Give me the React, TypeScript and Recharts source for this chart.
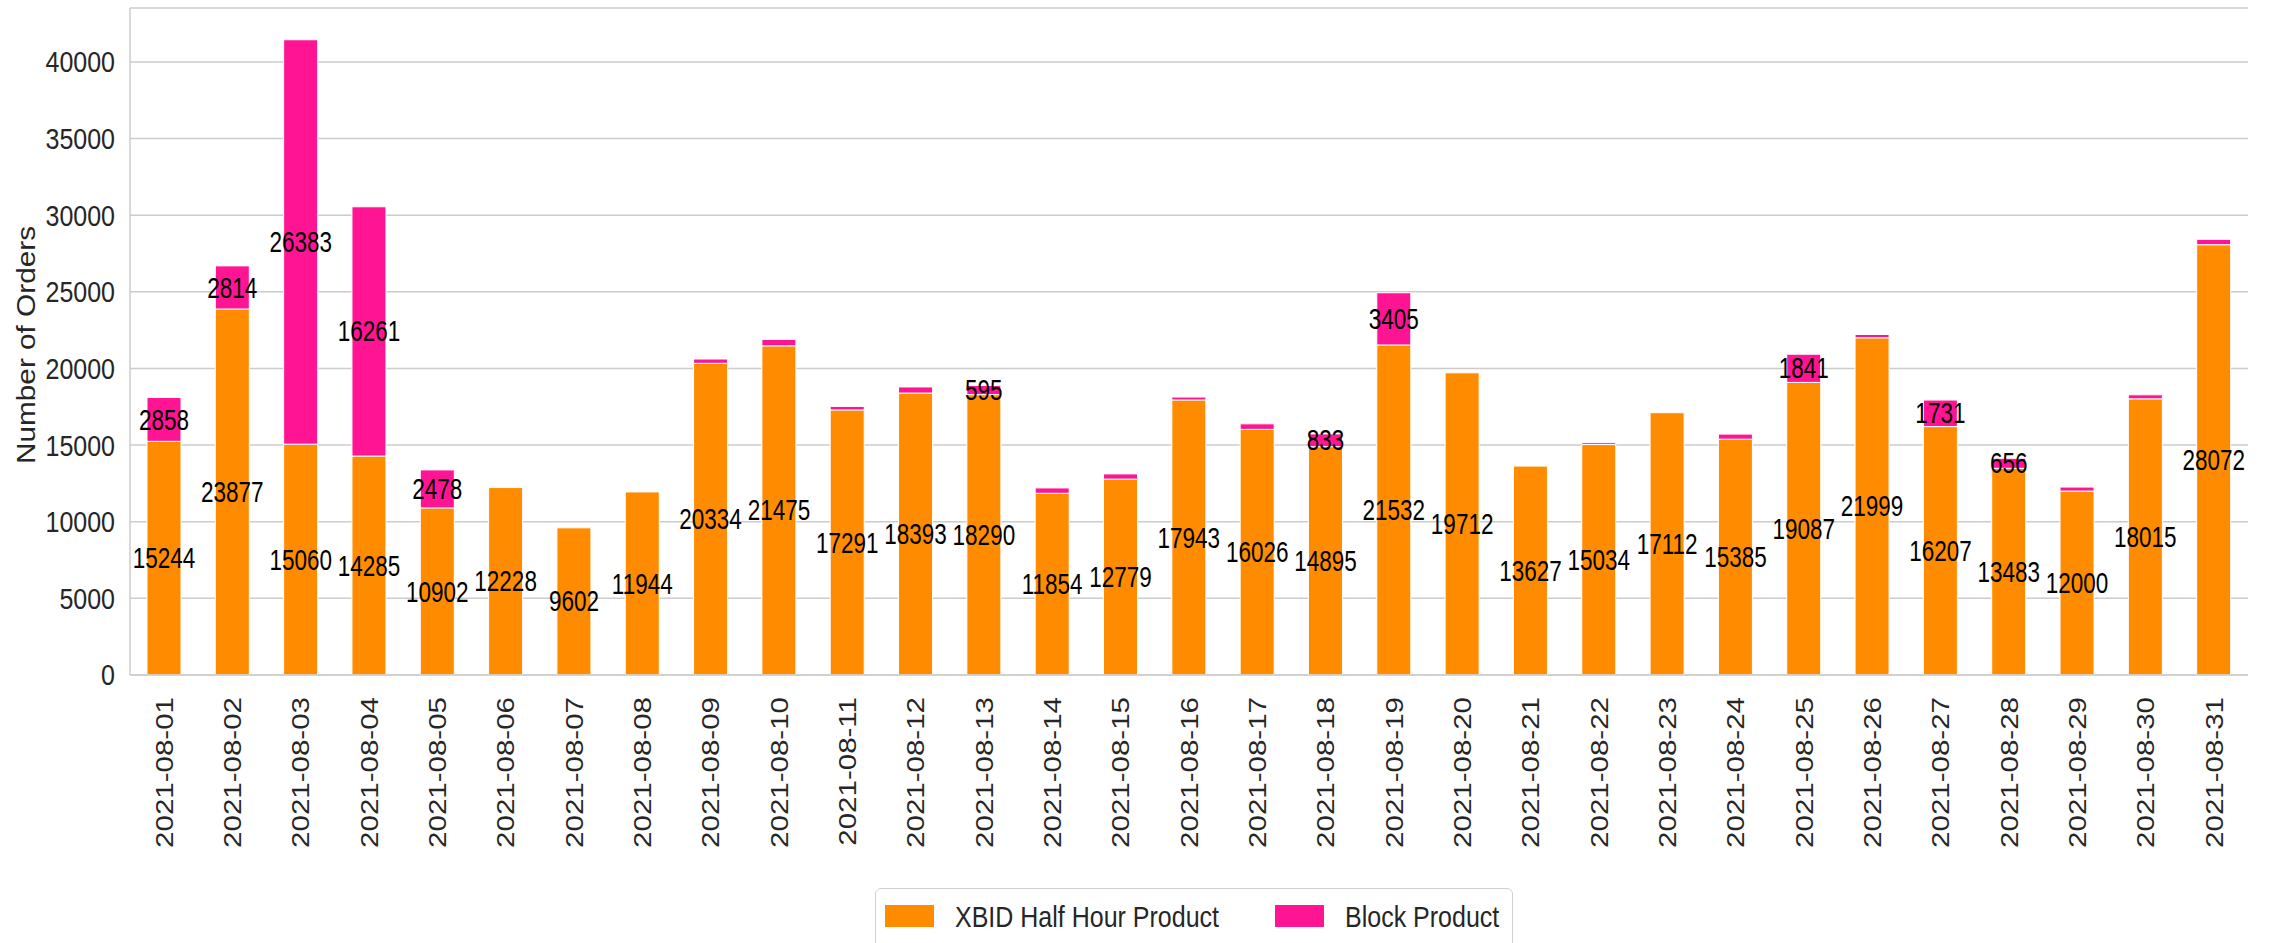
import React from 'react';
import { BarChart, Bar, XAxis, YAxis, CartesianGrid, LabelList } from 'recharts';

const dates = [
  '2021-08-01', '2021-08-02', '2021-08-03', '2021-08-04', '2021-08-05', '2021-08-06', '2021-08-07', '2021-08-08',
  '2021-08-09', '2021-08-10', '2021-08-11', '2021-08-12', '2021-08-13', '2021-08-14', '2021-08-15', '2021-08-16',
  '2021-08-17', '2021-08-18', '2021-08-19', '2021-08-20', '2021-08-21', '2021-08-22', '2021-08-23', '2021-08-24',
  '2021-08-25', '2021-08-26', '2021-08-27', '2021-08-28', '2021-08-29', '2021-08-30', '2021-08-31',
];

const xbidHalfHour = [
  15244, 23877, 15060, 14285, 10902, 12228, 9602, 11944,
  20334, 21475, 17291, 18393, 18290, 11854, 12779, 17943,
  16026, 14895, 21532, 19712, 13627, 15034, 17112, 15385,
  19087, 21999, 16207, 13483, 12000, 18015, 28072,
];

// small block values (no label in the picture) are estimated from bar heights
const blockProduct = [
  2858, 2814, 26383, 16261, 2478, 0, 0, 0,
  280, 420, 230, 400, 595, 350, 340, 190,
  360, 833, 3405, 0, 0, 120, 0, 330,
  1841, 215, 1731, 656, 260, 265, 350,
];

const yTicks = [0, 5000, 10000, 15000, 20000, 25000, 30000, 35000, 40000];
const seriesNames = ['XBID Half Hour Product', 'Block Product'];
const seriesColors = ['#ff8c00', '#ff1493'];

const data = dates.map((d, i) => ({ date: d, xbid: xbidHalfHour[i], block: blockProduct[i] }));

const FONT = '"Liberation Sans", Arial, sans-serif';
const STRETCH = 1.19; // text in the picture is a bit taller than wide

const YTick = (props: any) => {
  const { y, payload } = props;
  return (
    <text x={0} y={0} dy="0.35em" transform={`translate(115, ${y}) scale(1, ${STRETCH})`}
      textAnchor="end" fontSize={25} fill="#262626" fontFamily={FONT}>
      {payload.value}
    </text>
  );
};

const XTick = (props: any) => {
  const { x, payload } = props;
  return (
    <text x={0} y={0} dy="0.35em" transform={`translate(${x}, 697) rotate(-90) scale(${STRETCH}, 1)`}
      textAnchor="end" fontSize={24.8} fill="#262626" fontFamily={FONT}>
      {payload.value}
    </text>
  );
};

const yLabel = () => (
  <text x={0} y={0} dy="0.35em" transform={`translate(26, 345) rotate(-90) scale(${STRETCH}, 1)`}
    textAnchor="middle" fontSize={25} fill="#262626" fontFamily={FONT}>
    Number of Orders
  </text>
);

const makeValueLabel = (minValue: number) => (props: any) => {
  const { x, y, width, height, value } = props;
  if (value == null || value < minValue) return null;
  const cx = Number(x) + Number(width) / 2;
  const cy = Number(y) + Number(height) / 2;
  return (
    <text x={0} y={0} dy="0.35em" transform={`translate(${cx}, ${cy}) scale(1, 1.28)`}
      textAnchor="middle" fontSize={22.5} fill="#000" fontFamily={FONT}>
      {value}
    </text>
  );
};

const App: React.FC = () => {
  return (
    <div style={{ position: 'relative', width: 2275, height: 943, overflow: 'hidden', background: '#fff' }}>
      <style>{'body { margin: 0; }'}</style>
      <BarChart width={2275} height={943} data={data} margin={{ top: 8, right: 27, bottom: 0, left: 0 }}>
        <CartesianGrid vertical={false} stroke="#cccccc" strokeWidth={1.5} />
        <XAxis dataKey="date" interval={0} height={268} tick={<XTick />} tickLine={false}
          axisLine={{ stroke: '#cccccc', strokeWidth: 1.5 }} />
        <YAxis width={130} domain={[0, 43515]} ticks={yTicks} tick={<YTick />} tickLine={false}
          axisLine={{ stroke: '#cccccc', strokeWidth: 1.5 }} label={yLabel} />
        <Bar dataKey="xbid" name={seriesNames[0]} stackId="a" fill={seriesColors[0]} barSize={34}
          stroke="#ffffff" strokeWidth={1} isAnimationActive={false}>
          <LabelList dataKey="xbid" content={makeValueLabel(1)} />
        </Bar>
        <Bar dataKey="block" name={seriesNames[1]} stackId="a" fill={seriesColors[1]} barSize={34}
          stroke="#ffffff" strokeWidth={1} isAnimationActive={false}>
          <LabelList dataKey="block" content={makeValueLabel(500)} />
        </Bar>
      </BarChart>

      {/* Legend, cut off at the bottom like in the original */}
      <div style={{
        position: 'absolute', left: 875, top: 888, width: 638, height: 80, boxSizing: 'border-box',
        border: '1.5px solid #d0d0d0', borderRadius: 6, background: '#fff', fontFamily: FONT,
      }}>
        {seriesNames.map((name, i) => (
          <React.Fragment key={name}>
            <div style={{
              position: 'absolute', left: i === 0 ? 9 : 399, top: 16, width: 49, height: 22,
              background: seriesColors[i],
            }} />
            <div style={{
              position: 'absolute', left: i === 0 ? 79 : 469, top: 9, fontSize: 25, lineHeight: '36px',
              color: '#262626', whiteSpace: 'nowrap', transform: `scaleY(${STRETCH})`, transformOrigin: 'left center',
            }}>
              {name}
            </div>
          </React.Fragment>
        ))}
      </div>
    </div>
  );
};

export default App;
